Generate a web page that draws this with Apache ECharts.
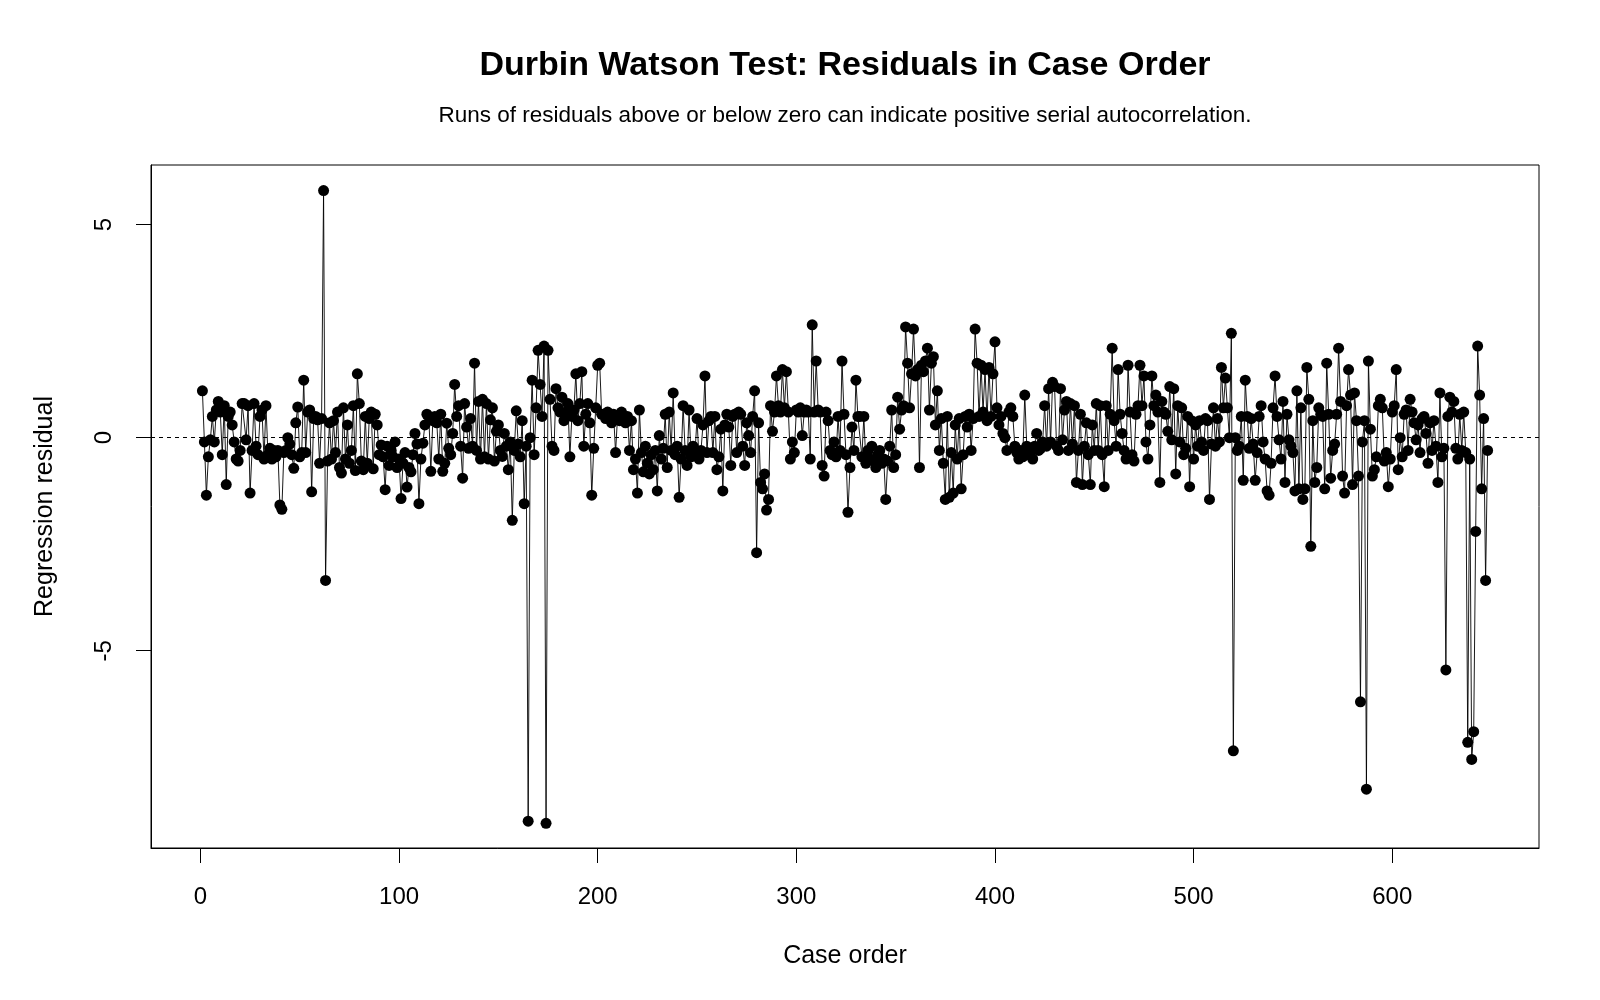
<!DOCTYPE html>
<html>
<head>
<meta charset="utf-8">
<title>Durbin Watson Test: Residuals in Case Order</title>
<script src="https://cdn.jsdelivr.net/npm/echarts@6/dist/echarts.min.js"></script>
<style>
  html, body { margin: 0; padding: 0; background: #fff; }
  #chart { width: 1600px; height: 1000px; }
</style>
</head>
<body>
<div id="chart"></div>
<script>
  // residuals, case order 1..648, in blocks of 50
  const resid001 = [
    1.1, -0.1, -1.35, -0.45, -0.05, 0.5, -0.1, 0.65, 0.85, 0.6,
    -0.4, 0.75, -1.1, 0.5, 0.6, 0.3, -0.1, -0.5, -0.55, -0.3,
    0.8, 0.8, -0.05, 0.75, -1.3, -0.3, 0.8, -0.2, -0.4, 0.5,
    0.65, -0.5, 0.75, -0.4, -0.25, -0.5, -0.3, -0.45, -0.3, -1.58,
    -1.68, -0.35, -0.3, 0.0, -0.15, -0.4, -0.72, 0.35, 0.72, -0.45
  ]
  const resid051 = [
    -0.35, 1.35, -0.35, 0.6, 0.65, -1.27, 0.45, 0.5, 0.42, -0.6,
    0.45, 5.8, -3.35, -0.55, 0.35, -0.5, 0.4, -0.35, 0.6, -0.7,
    -0.83, 0.7, -0.5, 0.3, -0.6, -0.3, 0.75, -0.77, 1.5, 0.8,
    -0.55, -0.75, 0.5, -0.6, 0.45, 0.6, -0.73, 0.55, 0.3, -0.4,
    -0.17, -0.45, -1.22, -0.2, -0.65, -0.3, -0.45, -0.1, -0.7, -0.5
  ]
  const resid101 = [
    -1.43, -0.6, -0.35, -1.16, -0.7, -0.8, -0.4, 0.1, -0.15, -1.55,
    -0.5, -0.13, 0.3, 0.55, 0.5, -0.79, 0.4, 0.5, 0.35, -0.5,
    0.55, -0.79, -0.6, 0.34, -0.25, -0.4, 0.1, 1.25, 0.5, 0.75,
    -0.2, -0.95, 0.8, 0.25, -0.25, 0.45, -0.2, 1.75, -0.3, 0.85,
    -0.5, 0.9, -0.45, 0.8, -0.5, 0.42, 0.7, -0.55, 0.15, 0.3
  ]
  const resid151 = [
    -0.3, -0.44, 0.1, -0.2, -0.75, -0.1, -1.94, -0.3, 0.63, -0.15,
    -0.45, 0.4, -1.55, -0.2, -9.0, 0.0, 1.35, -0.4, 0.7, 2.05,
    1.25, 0.5, 2.15, -9.05, 2.05, 0.9, -0.2, -0.3, 1.15, 0.7,
    0.6, 0.95, 0.4, 0.6, 0.8, -0.45, 0.5, 0.65, 1.5, 0.4,
    0.8, 1.55, -0.2, 0.55, 0.8, 0.35, -1.35, -0.25, 0.7, 1.7
  ]
  const resid201 = [
    1.75, 0.55, 0.55, 0.45, 0.6, 0.5, 0.35, 0.55, -0.35, 0.5,
    0.4, 0.6, 0.45, 0.35, 0.5, -0.3, 0.4, -0.75, -0.5, -1.3,
    0.65, -0.35, -0.8, -0.2, -0.6, -0.85, -0.4, -0.75, -0.3, -1.25,
    0.05, -0.5, -0.25, 0.55, -0.7, 0.6, -0.3, 1.05, -0.4, -0.2,
    -1.4, -0.5, 0.75, -0.3, -0.65, 0.65, -0.45, -0.2, -0.35, 0.45
  ]
  const resid251 = [
    -0.5, -0.3, 0.3, 1.45, -0.35, 0.4, 0.5, -0.35, 0.5, -0.75,
    -0.45, 0.2, -1.25, 0.3, 0.55, 0.25, -0.65, 0.5, 0.55, -0.35,
    0.6, 0.55, -0.2, -0.65, 0.35, 0.05, -0.35, 0.5, 1.1, -2.7,
    0.35, -1.05, -1.2, -0.85, -1.7, -1.45, 0.75, 0.15, 0.6, 1.45,
    0.75, 0.6, 1.6, 0.7, 1.55, 0.6, -0.5, -0.1, -0.35, 0.65
  ]
  const resid301 = [
    0.6, 0.7, 0.05, 0.6, 0.65, 0.6, -0.5, 2.65, 0.6, 1.8,
    0.65, 0.6, -0.65, -0.9, 0.6, 0.4, -0.3, -0.4, -0.1, -0.45,
    0.5, -0.3, 1.8, 0.55, -0.4, -1.75, -0.7, 0.25, -0.3, 1.35,
    0.5, 0.5, -0.45, 0.5, -0.6, -0.3, -0.5, -0.2, -0.55, -0.7,
    -0.4, -0.3, -0.6, -0.5, -1.45, -0.55, -0.2, 0.65, -0.7, -0.4
  ]
  const resid351 = [
    0.95, 0.2, 0.65, 0.75, 2.6, 1.75, 0.7, 1.5, 2.55, 1.45,
    1.6, -0.7, 1.7, 1.55, 1.8, 2.1, 0.65, 1.75, 1.9, 0.3,
    1.1, -0.3, 0.45, -0.6, -1.45, 0.5, -1.4, -0.35, -1.3, 0.3,
    -0.5, 0.45, -1.2, -0.4, 0.5, 0.25, 0.55, -0.3, 0.45, 2.55,
    1.75, 0.5, 1.7, 0.6, 1.6, 0.4, 1.65, 0.5, 1.5, 2.25
  ]
  const resid401 = [
    0.7, 0.3, 0.5, 0.1, 0.0, -0.3, 0.6, 0.7, 0.5, -0.2,
    -0.35, -0.5, -0.3, -0.45, 1.0, -0.2, -0.4, -0.3, -0.5, -0.2,
    0.1, -0.3, -0.25, -0.1, 0.75, -0.2, 1.15, -0.1, 1.3, 1.2,
    -0.2, -0.3, 1.15, -0.05, 0.65, 0.85, -0.3, 0.8, -0.15, 0.75,
    -1.05, -0.3, 0.55, -1.1, -0.2, 0.35, -0.4, -1.1, 0.3, -0.3
  ]
  const resid451 = [
    0.8, -0.3, 0.75, -0.4, -1.15, 0.75, -0.3, 0.55, 2.1, 0.4,
    -0.2, 1.6, 0.55, 0.1, -0.3, -0.5, 1.7, 0.6, -0.4, -0.55,
    0.55, 0.75, 1.7, 0.75, 1.45, -0.1, -0.5, 0.3, 1.45, 0.75,
    1.0, 0.6, -1.05, 0.85, 0.6, 0.55, 0.15, 1.2, -0.05, 1.15,
    -0.85, 0.75, -0.1, 0.7, -0.4, -0.25, 0.5, -1.15, 0.4, -0.5
  ]
  const resid501 = [
    0.3, -0.2, 0.4, -0.1, -0.3, 0.45, 0.4, -1.45, -0.15, 0.7,
    -0.2, 0.45, -0.1, 1.65, 0.7, 1.4, 0.7, 0.0, 2.45, -7.35,
    0.0, -0.3, -0.2, 0.5, -1.0, 1.35, 0.5, -0.25, 0.45, -0.15,
    -1.0, -0.35, 0.5, 0.75, -0.1, -0.5, -1.25, -1.35, -0.6, 0.7,
    1.45, 0.5, -0.05, -0.5, 0.85, -1.05, 0.55, -0.05, -0.2, -0.35
  ]
  const resid551 = [
    -1.25, 1.1, -1.2, 0.7, -1.45, -1.2, 1.65, 0.9, -2.55, 0.4,
    -1.05, -0.7, 0.7, 0.55, 0.5, -1.2, 1.75, 0.55, -0.95, -0.3,
    -0.15, 0.55, 2.1, 0.85, -0.9, -1.3, 0.75, 1.6, 1.0, -1.1,
    1.05, 0.4, -0.9, -6.2, -0.1, 0.4, -8.25, 1.8, 0.2, -0.9,
    -0.75, -0.45, 0.75, 0.9, 0.7, -0.55, -0.35, -1.15, -0.5, 0.6
  ]
  const resid601 = [
    0.75, 1.6, -0.75, 0.0, -0.45, 0.55, 0.65, -0.3, 0.9, 0.6,
    0.35, -0.05, 0.3, -0.35, 0.45, 0.5, 0.1, -0.6, 0.35, -0.3,
    0.4, -0.2, -1.05, 1.05, -0.45, -0.25, -5.45, 0.5, 0.95, 0.6,
    0.85, -0.25, -0.5, 0.55, -0.3, 0.6, -0.35, -7.15, -0.5, -7.55,
    -6.9, -2.2, 2.15, 1.0, -1.2, 0.45, -3.35, -0.3
  ]

  const residuals = [].concat(
    resid001, resid051, resid101, resid151, resid201, resid251, resid301,
    resid351, resid401, resid451, resid501, resid551, resid601
  )

  const xTicks = [0, 100, 200, 300, 400, 500, 600]
  const yTicks = [-5, 0, 5]
  const xRange = [-24.88, 673.88]
  const yRange = [-9.63, 6.4]

  const titleText = 'Durbin Watson Test: Residuals in Case Order'
  const subtitleText = 'Runs of residuals above or below zero can indicate positive serial autocorrelation.'

  const fontFamily = '"Liberation Sans", Arial, sans-serif'

  const chart = echarts.init(document.getElementById('chart'), null, { renderer: 'canvas' })

  const axisCommon = {
    type: 'value',
    nameLocation: 'middle',
    nameTextStyle: { color: '#000', fontSize: 25, fontFamily: fontFamily },
    axisLine: { show: true, onZero: false, lineStyle: { color: '#000', width: 1 } },
    axisTick: { show: true, length: 15, inside: false, lineStyle: { color: '#000', width: 1 } },
    splitLine: { show: false }
  }

  const option = {
    animation: false,
    backgroundColor: '#fff',
    graphic: [
      {
        type: 'text',
        x: 845,
        y: 66,
        style: {
          text: titleText,
          fill: '#000',
          font: 'bold 34px ' + fontFamily,
          textAlign: 'center',
          textVerticalAlign: 'middle'
        }
      },
      {
        type: 'text',
        x: 845,
        y: 116,
        style: {
          text: subtitleText,
          fill: '#000',
          font: '22.5px ' + fontFamily,
          textAlign: 'center',
          textVerticalAlign: 'middle'
        }
      }
    ],
    grid: {
      left: 151,
      right: 61,
      top: 165,
      bottom: 152,
      show: true,
      borderColor: '#000',
      borderWidth: 1,
      backgroundColor: 'transparent'
    },
    xAxis: {
      ...axisCommon,
      name: 'Case order',
      nameGap: 96,
      min: xRange[0],
      max: xRange[1],
      axisTick: { ...axisCommon.axisTick, customValues: xTicks },
      axisLabel: {
        customValues: xTicks,
        color: '#000',
        fontSize: 24,
        fontFamily: fontFamily,
        margin: 37
      }
    },
    yAxis: {
      ...axisCommon,
      name: 'Regression residual',
      nameGap: 93,
      min: yRange[0],
      max: yRange[1],
      axisTick: { ...axisCommon.axisTick, customValues: yTicks },
      axisLabel: {
        customValues: yTicks,
        color: '#000',
        fontSize: 24,
        fontFamily: fontFamily,
        rotate: 90,
        margin: 35
      }
    },
    series: [
      {
        type: 'line',
        data: residuals.map((v, i) => [i + 1, v]),
        symbol: 'circle',
        symbolSize: 11,
        showSymbol: true,
        itemStyle: { color: '#000' },
        lineStyle: { color: '#000', width: 0.9 },
        emphasis: { disabled: true },
        markLine: {
          silent: true,
          symbol: 'none',
          label: { show: false },
          lineStyle: { color: '#000', width: 1, type: [4, 4] },
          data: [{ yAxis: 0 }]
        }
      }
    ]
  }

  chart.setOption(option)
</script>
</body>
</html>
